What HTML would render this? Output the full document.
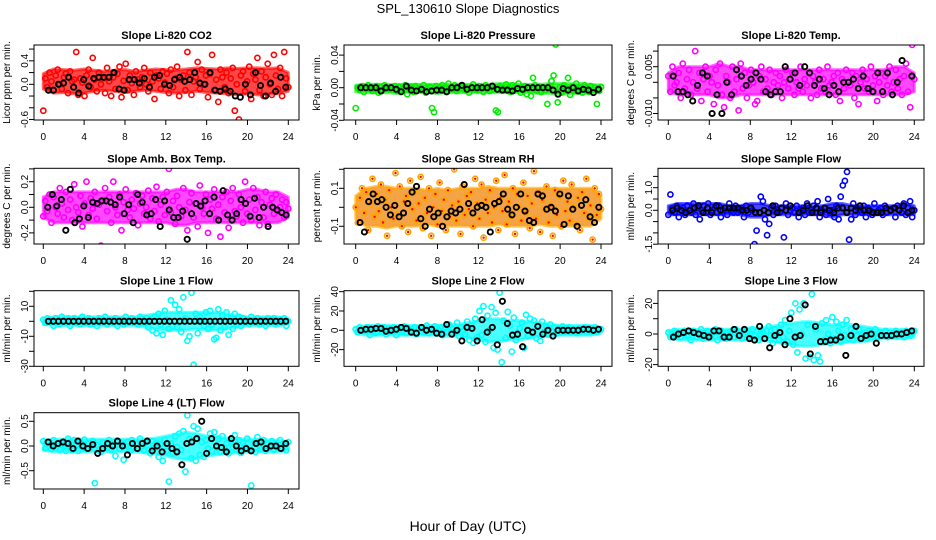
<!DOCTYPE html>
<html><head><meta charset="utf-8"><title>SPL_130610 Slope Diagnostics</title>
<style>
html,body{margin:0;padding:0;background:#fff;}
svg{display:block;font-family:"Liberation Sans",Arial,sans-serif;}
</style></head>
<body>
<svg id="chart" width="936" height="540" viewBox="0 0 936 540">
<text x="468" y="13" text-anchor="middle" font-size="13">SPL_130610  Slope Diagnostics</text>
<text x="468" y="531" text-anchor="middle" font-size="14">Hour of Day (UTC)</text>
</svg>
<script>
// ---- data (integer units scaled per panel) ----
const xTickLabels = [0,4,8,12,16,20,24];
const bandHours = [0,1,2,3,4,5,6,7,8,9,10,11,12,13,14,15,16,17,18,19,20,21,22,23,24];

const co2Values = [-45,10,-5,20,5,-10,15,25,0,-8,12,18,-15,22,5,8,55,-18,10,3,-20,15,25,-5,45,8,-12,20,0,10,-15,28,5,-20,12,-8,18,30,-22,6,35,-10,15,2,-18,22,8,-5,12,28,0,-12,20,5,-25,15,10,-8,22,3,18,-15,25,-5,10,30,-20,8,15,-10,55,20,-18,5,12,38,-8,25,0,15,-22,18,50,-10,8,-30,25,12,-5,20,-15,10,28,-45,0,-60,15,22,-12,5,30,-25,18,8,45,-10,22,-20,12,35,0,-18,50,15,-8,28,-20,55,10,-5];
const co2Black = [-10,-10,0,2,12,-5,-15,8,-3,10,12,12,12,20,-8,-10,8,8,2,10,-5,12,15,0,-2,8,12,5,8,20,2,0,20,-10,-12,-8,-12,-20,-22,0,-18,20,-2,-20,2,-12,12,-5];
const co2BandLow = [-8,-15,-14,-16,-15,-12,-10,-12,-14,-12,-10,-12,-14,-15,-14,-12,-14,-15,-16,-18,-16,-18,-17,-16,-12];
const co2BandHigh = [18,26,25,24,26,24,22,24,25,22,24,26,25,24,26,28,27,26,28,27,28,28,27,28,20];
const co2Ticks = [-0.6,-0.4,-0.2,0,0.2,0.4,0.6];
const co2TickLabels = ["-0.6","","","0.0","","0.4",""];

const presValues = [-25,0,-3,2,-5,1,3,-2,-4,0,2,-6,1,-3,3,-1,-2,0,-60,2,-4,1,-3,0,3,-8,-2,1,-5,2,-1,0,-3,3,-6,-2,1,-25,-30,2,-4,0,3,-1,-5,5,0,-2,3,-4,-1,-58,2,-3,0,-6,1,4,-2,-3,2,0,-5,3,-1,-4,1,-2,-28,-30,2,0,-3,4,-1,-5,3,0,-2,5,-6,-1,2,-8,0,-10,12,3,-4,1,-5,-78,-3,-20,2,8,15,53,-18,0,-6,3,-2,12,-9,1,-4,5,-2,0,-6,3,-1,-5,2,-3,0,-20,-4,1];
const presBlack = [0,0,0,0,-4,0,0,-2,-5,2,-3,-4,-2,-5,-4,-3,-3,-5,0,0,3,-2,0,0,0,0,2,-2,-3,-3,-4,-1,-2,0,0,0,0,0,-3,-8,-1,-3,0,-4,-2,-3,-6,-2];
const presBandLow = [-5,-6,-6,-6,-7,-6,-6,-6,-7,-6,-6,-6,-6,-6,-6,-6,-6,-6,-7,-7,-8,-7,-7,-6,-5];
const presBandHigh = [3,4,4,4,4,4,4,4,4,4,4,4,4,4,5,5,4,4,4,5,5,5,5,4,3];
const presTicks = [-0.04,-0.02,0,0.02,0.04];
const presTickLabels = ["-0.04","","0.00","","0.04"];

const tempValues = [2,-3,5,-1,0,3,-5,6,-2,1,4,-4,0,10,-2,3,-6,1,5,-3,2,0,-7,4,-1,6,-4,-8,2,0,-5,5,-3,1,-9,6,-2,3,-5,-1,4,0,-7,-6,2,5,-3,1,-2,4,-4,0,3,-1,2,-5,0,4,-2,1,3,-4,0,-2,5,-3,1,-1,3,-5,2,0,-4,4,-2,1,-3,5,-1,0,2,-4,3,-6,1,-2,4,0,-1,3,-5,2,-7,0,4,-2,1,-3,5,-1,2,-6,0,3,-4,2,-1,5,-3,0,4,-2,1,-4,2,6,-3,-8,12,1];
const tempBlack = [2,-3,-3,-4,-6,-1,3,2,-10,-4,-10,0,-4,4,2,-1,1,3,1,-3,-4,-3,-3,5,1,3,-1,5,3,-1,1,-2,-4,-1,-3,0,0,1,-2,2,-2,-3,3,-3,3,-4,0,7,-13,2];
const tempBandLow = [-3,-4,-4,-4,-4,-5,-5,-4,-4,-4,-4,-4,-4,-4,-4,-4,-4,-4,-4,-4,-4,-4,-4,-4,-3];
const tempBandHigh = [3,5,5,5,5,6,5,5,4,4,4,4,4,4,4,4,4,4,4,4,4,4,5,5,3];
const tempTicks = [-0.01,-0.005,0,0.005,0.01];
const tempTickLabels = ["-0.010","","","0.005",""];

const ambValues = [-7,5,-3,10,-12,8,0,-5,15,3,-8,12,-2,6,-10,18,0,-4,9,-15,3,20,-6,7,-1,12,-9,2,-30,5,15,-3,8,-12,20,0,-6,10,-18,4,14,-2,-8,6,-1,11,-14,3,9,-5,0,13,-9,7,-3,16,-11,2,8,-6,12,30,-4,5,-13,9,0,-7,15,-2,-18,4,11,-8,3,-15,17,0,-5,10,-20,6,-1,14,-9,2,-23,8,-4,12,-16,5,15,-3,-7,10,0,-12,20,-5,6,-10,15,-2,8,-14,4,-8,12,-13,2,7,-5,10,-3,0,6,-8,4,-1];
const ambBlack = [0,10,1,6,-18,14,-12,-9,1,-8,4,3,5,5,4,2,8,-5,2,-12,10,4,-6,-5,6,-15,5,-2,-8,-8,-3,-25,-5,3,1,5,-5,8,-10,13,-6,-10,-5,6,3,-7,7,-8,0,-15,0,-2,-4,-6];
const ambBandLow = [-8,-12,-12,-12,-12,-12,-12,-12,-12,-12,-12,-12,-12,-14,-14,-12,-12,-12,-12,-12,-12,-12,-12,-12,-8];
const ambBandHigh = [8,12,12,12,12,12,12,12,12,12,12,12,12,14,14,12,12,12,12,12,14,14,12,12,8];
const ambTicks = [-0.3,-0.2,-0.1,0,0.1,0.2,0.3];
const ambTickLabels = ["","-0.2","","0.0","","0.2",""];

const rhValues = [0,-8,5,10,-3,8,-12,2,15,-5,7,-2,12,-8,4,-15,9,0,-6,18,-4,11,-10,3,6,-13,14,-1,8,-7,2,16,-11,5,-3,10,-15,0,7,-9,13,-2,4,-12,9,-5,1,20,-7,3,-14,11,-4,6,-1,8,-10,15,2,-6,12,-16,4,-3,9,-8,0,14,-12,5,-2,17,-9,3,-5,10,-14,7,0,-7,13,-3,6,-11,2,19,-6,8,-13,4,-1,11,-8,1,-15,9,-4,6,-10,14,-2,3,-7,12,0,-9,5,-12,8,-3,15,-6,1,-17,10,-4,7,-1];
const rhBlack = [-8,-13,3,7,3,4,0,-4,1,-5,-3,2,8,11,-6,-10,-1,-5,-3,-10,-5,-2,-3,-1,12,2,-3,0,1,0,-13,2,3,7,-1,-4,0,7,-2,-7,-8,7,6,-1,0,-2,7,-9,6,-1,-10,1,4,-5,-8,0];
const rhBandLow = [-6,-10,-10,-11,-10,-10,-10,-9,-10,-10,-10,-10,-10,-10,-9,-10,-10,-10,-9,-10,-10,-10,-10,-10,-6];
const rhBandHigh = [6,10,11,11,10,10,10,9,10,9,10,10,10,11,10,10,10,10,10,10,10,10,10,10,6];
const rhTicks = [-0.2,-0.1,0,0.1,0.2];
const rhTickLabels = ["","-0.1","","0.1",""];

const sampleValues = [-2,7,1,-1,2,-3,0,1,-2,2,0,-1,3,-2,1,-4,0,2,-1,3,-2,0,1,-1,2,-3,0,1,-2,3,0,-1,2,-1,0,1,-3,2,-1,1,0,-15,-9,-21,6,4,-4,-11,-6,1,-2,2,0,-1,1,-12,3,-2,0,1,-1,2,-3,0,1,-2,3,-1,0,2,-1,4,-3,0,1,-2,5,-1,0,-3,2,-4,6,11,13,17,-13,-4,3,-2,1,0,-1,2,-3,1,0,-2,3,-1,0,1,-2,2,-1,-20,0,1,-3,2,0,-1,3,-2,1,4,-3,0];
const sampleBlack = [0,1,0,-1,0,1,2,-1,1,-1,2,0,1,1,1,1,0,0,1,-1,-1,0,-1,2,-1,1,0,2,-19,-1,0,2,-1,1,-1,1,0,-1,1,1,-1,1,0,2,0,0,-1,-1,-1,1,0,1,0,2,-1,0];
const sampleBandLow = [-2,-2,-2,-2,-2,-2,-2,-2,-3,-3,-2,-2,-2,-2,-2,-2,-3,-2,-2,-2,-2,-2,-2,-2,-2];
const sampleBandHigh = [2,3,3,3,3,3,2,2,3,3,2,2,2,2,2,2,3,3,2,2,2,2,2,3,2];
const sampleTicks = [-1.5,-1,-0.5,0,0.5,1,1.5];
const sampleTickLabels = ["-1.5","","","0.0","","1.0",""];

const line1Values = [1,-1,2,0,1,-3,2,0,-2,3,1,-1,2,-3,0,2,-1,1,-2,3,0,-1,2,-2,1,0,-3,2,-1,1,3,-2,0,1,-1,2,-3,0,1,-2,3,-1,0,2,-1,1,-2,3,0,-1,2,-4,1,-6,3,-8,5,-2,-9,7,1,-5,14,-3,11,-4,8,-7,16,2,-13,-10,19,-29,5,-8,3,0,-3,6,-5,7,-2,-12,-11,8,-6,4,-4,6,-9,2,-5,5,-2,3,-3,2,-1,1,-2,3,0,-1,2,-2,1,0,-3,2,-1,1,2,-2,0,1,-1,2,-3,0];
const line1Black = [0,0,0,0,0,0,0,0,0,0,0,0,0,0,0,0,0,0,0,0,0,0,0,0,0,0,0,0,0,0,0,0,0,0,0,0,0,0,0,0,0,0,0,0,0,0,0,0];
const line1BandLow = [-2,-3,-3,-3,-3,-3,-3,-3,-3,-3,-4,-5,-6,-6,-6,-5,-6,-6,-5,-4,-3,-3,-3,-3,-2];
const line1BandHigh = [2,3,3,3,3,3,3,3,3,3,4,5,6,6,6,6,6,6,5,4,3,3,3,3,2];
const line1Ticks = [-30,-20,-10,0,10,20];
const line1TickLabels = ["-30","","-10","","10",""];

const line2Values = [1,-2,3,0,-1,2,3,-5,2,0,-3,4,1,-2,3,-4,0,2,-1,3,-5,1,0,-2,4,-3,2,-1,0,3,-4,1,2,-2,0,5,-3,1,-1,4,-2,0,3,-5,2,-1,6,-3,1,-2,8,-6,3,0,-4,9,-10,5,-13,12,-7,20,-5,25,-12,15,0,24,-18,18,-20,39,-33,10,-8,19,5,-22,13,-10,-5,2,8,-18,16,-6,12,-3,10,-8,5,-11,9,-2,4,-4,6,-1,3,-3,2,-2,4,0,-1,3,-2,1,0,-3,2,-1,1,3,-2,0,2,-1,3,-2,0,1];
const line2Black = [0,1,1,2,2,-1,0,1,3,2,-2,-3,3,0,1,-3,-4,6,-4,0,-11,3,2,-11,11,-2,3,-15,30,7,-5,-4,-17,0,-2,4,-4,0,-6,0,0,0,0,0,1,1,0,1];
const line2BandLow = [-3,-5,-5,-5,-5,-5,-5,-5,-5,-6,-6,-8,-10,-12,-12,-10,-10,-8,-7,-6,-5,-5,-5,-5,-3];
const line2BandHigh = [3,5,5,5,5,5,5,5,5,6,6,8,10,12,12,10,10,9,8,6,5,5,5,5,3];
const line2Ticks = [-20,0,20,40];
const line2TickLabels = ["-20","0","20","40"];

const line3Values = [1,-2,0,2,-1,1,-2,0,2,-1,-1,-4,2,0,-2,1,3,-3,0,2,-1,-2,1,3,-4,0,2,-1,-3,1,0,2,-2,3,-1,0,-3,2,1,-2,0,3,-1,2,-4,0,1,-3,2,5,-1,-6,3,0,-4,6,-2,9,-5,2,14,-7,20,-12,16,0,20,-16,6,-15,26,-17,3,-14,-18,7,-4,9,0,-6,11,-3,8,2,-5,6,-1,9,-3,3,-4,2,-1,3,-2,0,1,-3,2,0,-1,3,-2,1,0,-1,2,-2,1,0,-1,2,-1,0,1,-2,2,0,-1,1,2];
const line3Black = [-2,0,1,2,1,0,-1,-2,2,2,-2,-2,3,-1,3,-3,-4,5,-3,-9,-1,1,-7,10,-2,-1,19,-13,5,-5,-5,-4,-4,-2,-14,-1,5,-3,-1,0,-6,-1,-1,-1,0,0,1,2];
const line3BandLow = [-2,-4,-4,-4,-4,-4,-4,-4,-4,-4,-5,-6,-7,-8,-8,-7,-6,-6,-5,-5,-4,-3,-3,-3,-2];
const line3BandHigh = [2,3,3,3,3,3,3,3,4,4,5,6,7,8,8,7,6,6,6,5,4,3,3,3,2];
const line3Ticks = [-20,-10,0,10,20];
const line3TickLabels = ["-20","","0","","20"];

const line4Values = [10,-5,8,0,-6,12,-3,5,-8,4,3,-10,15,0,-8,12,3,-10,8,-3,13,-6,5,-2,10,-75,2,-9,-12,7,0,-4,12,-8,3,-20,10,-5,6,-28,0,8,-10,12,-3,5,-6,15,-1,-9,8,2,-15,10,-4,6,-22,3,-30,12,-10,-72,5,-15,20,-2,25,-8,30,-52,62,15,-25,40,-30,35,-18,8,-22,12,-5,25,-10,28,-2,15,-12,20,-6,5,-15,10,-3,22,-8,12,-14,6,-1,15,-8,-80,5,-12,18,0,-6,12,-10,4,-3,10,-8,5,-2,12,-6,3,-9,8];
const line4Black = [8,0,5,8,5,-5,10,0,-5,3,-15,-5,5,0,10,0,-18,5,-5,5,10,-10,0,-12,5,-5,-12,-38,5,8,15,50,-15,15,0,-3,-12,15,0,-10,-5,-10,5,8,-5,0,0,-5,5];
const line4BandLow = [-8,-12,-12,-12,-12,-12,-12,-12,-12,-12,-14,-16,-20,-25,-28,-25,-20,-18,-15,-14,-12,-12,-12,-12,-8];
const line4BandHigh = [10,14,14,14,14,14,14,14,14,14,14,16,20,24,28,25,20,18,16,15,14,14,12,12,8];
const line4Ticks = [-0.5,0,0.5];
const line4TickLabels = ["-0.5","0.0","0.5"];

// ---- layout ----
const cols = [{l:34,r:299,x0:43.3,x24:288.3},{l:344,r:612,x0:355.7,x24:601},{l:658,r:924,x0:668.3,x24:914.3}];
const rows = [{t:45,b:120},{t:168.3,b:244},{t:290.7,b:366.3},{t:412.7,b:489}];
const panels = [
 {name:'co2',title:'Slope Li-820 CO2',ylab:'Licor ppm per min.',c:0,r:0,color:'#ff0000',scale:0.01,vals:co2Values,blk:co2Black,lo:co2BandLow,hi:co2BandHigh,ticks:co2Ticks,labels:co2TickLabels,zeroY:84.3,ppu:58.7},
 {name:'pressure',title:'Slope Li-820 Pressure',ylab:'kPa per min.',c:1,r:0,color:'#00ee00',scale:0.001,vals:presValues,blk:presBlack,lo:presBandLow,hi:presBandHigh,ticks:presTicks,labels:presTickLabels,zeroY:87.7,ppu:815},
 {name:'temp',title:'Slope Li-820 Temp.',ylab:'degrees C per min.',c:2,r:0,color:'#ff00ff',scale:0.001,vals:tempValues,blk:tempBlack,lo:tempBandLow,hi:tempBandHigh,ticks:tempTicks,labels:tempTickLabels,zeroY:82.3,ppu:3120},
 {name:'amb-box-temp',title:'Slope Amb. Box Temp.',ylab:'degrees C per min.',c:0,r:1,color:'#ff00ff',scale:0.01,vals:ambValues,blk:ambBlack,lo:ambBandLow,hi:ambBandHigh,ticks:ambTicks,labels:ambTickLabels,zeroY:207.3,ppu:128},
 {name:'gas-rh',title:'Slope Gas Stream RH',ylab:'percent per min.',c:1,r:1,color:'#ffa500',scale:0.01,vals:rhValues,blk:rhBlack,lo:rhBandLow,hi:rhBandHigh,ticks:rhTicks,labels:rhTickLabels,zeroY:207.3,ppu:190},
 {name:'sample-flow',title:'Slope Sample Flow',ylab:'ml/min per min.',c:2,r:1,color:'#0000ff',scale:0.1,vals:sampleValues,blk:sampleBlack,lo:sampleBandLow,hi:sampleBandHigh,ticks:sampleTicks,labels:sampleTickLabels,zeroY:210.3,ppu:22.6},
 {name:'line1-flow',title:'Slope Line 1 Flow',ylab:'ml/min per min.',c:0,r:2,color:'#00ffff',scale:1,vals:line1Values,blk:line1Black,lo:line1BandLow,hi:line1BandHigh,ticks:line1Ticks,labels:line1TickLabels,zeroY:321.3,ppu:1.5},
 {name:'line2-flow',title:'Slope Line 2 Flow',ylab:'ml/min per min.',c:1,r:2,color:'#00ffff',scale:1,vals:line2Values,blk:line2Black,lo:line2BandLow,hi:line2BandHigh,ticks:line2Ticks,labels:line2TickLabels,zeroY:330.3,ppu:0.966},
 {name:'line3-flow',title:'Slope Line 3 Flow',ylab:'ml/min per min.',c:2,r:2,color:'#00ffff',scale:1,vals:line3Values,blk:line3Black,lo:line3BandLow,hi:line3BandHigh,ticks:line3Ticks,labels:line3TickLabels,zeroY:334,ppu:1.53},
 {name:'line4-flow',title:'Slope Line 4 (LT) Flow',ylab:'ml/min per min.',c:0,r:3,color:'#00ffff',scale:0.01,vals:line4Values,blk:line4Black,lo:line4BandLow,hi:line4BandHigh,ticks:line4Ticks,labels:line4TickLabels,zeroY:446,ppu:49.4}
];
const NS='http://www.w3.org/2000/svg';
const svg=document.getElementById('chart');
function mk(tag,attrs,parent){const e=document.createElementNS(NS,tag);for(const k in attrs)e.setAttribute(k,attrs[k]);(parent||svg).appendChild(e);return e;}

panels.forEach(p=>{
  const C=cols[p.c],R=rows[p.r];
  const g=mk('g',{});
  
  
  const xs=h=>C.x0+(C.x24-C.x0)*h/24;
  const ys=v=>p.zeroY-v*p.ppu;
  const clip='clip-'+p.name;
  const cp=mk('clipPath',{id:clip},g); mk('rect',{x:C.l,y:R.t,width:C.r-C.l,height:R.b-R.t},cp);
  const pts=mk('g',{'clip-path':'url(#'+clip+')'},g);
  // dense band of points (envelope)
  const up=bandHours.map((h,i)=>xs(h).toFixed(1)+','+ys(p.hi[i]*p.scale).toFixed(1));
  const dn=bandHours.map((h,i)=>xs(h).toFixed(1)+','+ys(p.lo[i]*p.scale).toFixed(1)).reverse();
  const band=mk('polygon',{points:up.concat(dn).join(' '),fill:p.color,'fill-opacity':0.72,stroke:p.color,'stroke-opacity':0.6,'stroke-width':3,'stroke-linejoin':'round'},pts);
  
  
  if(p.name==='gas-rh'){band.setAttribute('fill','#f08000');}
  const n=p.vals.length;
  p.vals.forEach((v,i)=>{
    const h=24*i/(n-1);
    const c=mk('circle',{cx:xs(h).toFixed(1),cy:ys(v*p.scale).toFixed(1),r:2.6,fill:'none',stroke:p.color,'stroke-width':1.6},pts);
    
    
    if(p.name==='gas-rh'){mk('circle',{cx:xs(h).toFixed(1),cy:ys(v*p.scale).toFixed(1),r:1.2,fill:'#ff0000'},pts);}
  });
  const m=p.blk.length;
  p.blk.forEach((v,j)=>{
    const h=24*(j+1)/(m+0.5);
    const c=mk('circle',{cx:xs(h).toFixed(1),cy:ys(v*p.scale).toFixed(1),r:2.6,fill:'none',stroke:'#000','stroke-width':1.9},pts);
    
    
  });
  const box=mk('rect',{x:C.l,y:R.t,width:C.r-C.l,height:R.b-R.t,fill:'none',stroke:'#000','stroke-width':1},g);
  
  
  const t=mk('text',{x:(C.l+C.r)/2,y:R.t-6,'text-anchor':'middle','font-size':11,'font-weight':'bold'},g);
  t.textContent=p.title;
  
  
  const yl=mk('text',{x:0,y:0,'text-anchor':'middle','font-size':10,transform:'translate('+(C.l-24)+','+((R.t+R.b)/2)+') rotate(-90)'},g);
  yl.textContent=p.ylab;
  
  
  xTickLabels.forEach(h=>{
    const x=xs(h);
    mk('line',{x1:x,x2:x,y1:R.b,y2:R.b+5,stroke:'#000'},g);
    const tl=mk('text',{x:x,y:R.b+20,'text-anchor':'middle','font-size':10},g);
    tl.textContent=h;
    
    
  });
  p.ticks.forEach((v,i)=>{
    const y=ys(v);
    if(y<R.t-1||y>R.b+1) return;
    mk('line',{x1:C.l-5,x2:C.l,y1:y,y2:y,stroke:'#000'},g);
    if(p.labels[i]){
      const tl=mk('text',{x:0,y:0,'text-anchor':'middle','font-size':10,transform:'translate('+(C.l-6)+','+y+') rotate(-90)'},g);
      tl.textContent=p.labels[i];
      
      
    }
  });
});
</script>
</body></html>
